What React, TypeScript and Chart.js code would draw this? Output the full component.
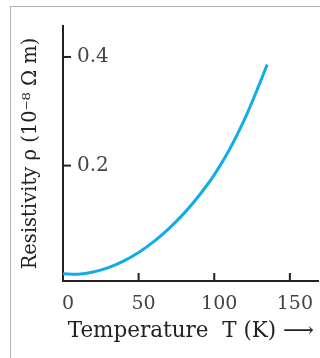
import React, { useEffect, useRef } from "react";
import { Chart, registerables } from "chart.js";

Chart.register(...registerables);

const temperatures = [0, 10, 20, 30, 40, 50, 60, 70, 80, 90, 100, 110, 120, 130, 135];
const resistivity = [0.001, 0.0, 0.004, 0.012, 0.024, 0.04, 0.06, 0.084, 0.112, 0.145, 0.183, 0.229, 0.285, 0.351, 0.386];
const xTicks = [0, 50, 100, 150];
const yTicks = [0.2, 0.4];
const xTitle = "Temperature  T (K) \u27F6";
const yTitle = "Resistivity \u03C1 (10\u207B\u2078 \u03A9 m)";

const SERIF = "'DejaVu Serif', 'Liberation Serif', serif";

const tickMarks = {
  id: "tickMarks",
  afterDraw(chart: any) {
    const { ctx, scales } = chart;
    const x = scales.x;
    const y = scales.y;
    ctx.save();
    ctx.strokeStyle = "#222";
    ctx.lineWidth = 2;
    const left = chart.chartArea.left;
    const bottom = chart.chartArea.bottom;
    xTicks.forEach((v) => {
      if (v === 0) return;
      const px = x.getPixelForValue(v);
      ctx.beginPath();
      ctx.moveTo(px, bottom);
      ctx.lineTo(px, bottom - 8);
      ctx.stroke();
    });
    yTicks.forEach((v) => {
      const py = y.getPixelForValue(v);
      ctx.beginPath();
      ctx.moveTo(left, py);
      ctx.lineTo(left + 8, py);
      ctx.stroke();
    });
    ctx.restore();
  },
};

export default function App() {
  const ref = useRef<HTMLCanvasElement>(null);
  useEffect(() => {
    if (!ref.current) return;
    const chart = new Chart(ref.current, {
      type: "line",
      data: {
        datasets: [
          {
            data: temperatures.map((t, i) => ({ x: t, y: resistivity[i] })),
            borderColor: "#12ade6",
            borderWidth: 3,
            pointRadius: 0,
            tension: 0.4,
            fill: false,
          },
        ],
      },
      options: {
        animation: false,
        responsive: false,
        devicePixelRatio: 1,
        layout: { padding: { top: 18, right: 0, left: 0, bottom: 0 } },
        plugins: { legend: { display: false }, tooltip: { enabled: false } },
        scales: {
          x: {
            type: "linear",
            min: 0,
            max: 169,
            afterFit: (s: any) => {
              s.height = 77;
            },
            afterBuildTicks: (s: any) => {
              s.ticks = xTicks.map((v) => ({ value: v }));
            },
            grid: { display: true, drawOnChartArea: false, drawTicks: false, color: "rgba(0,0,0,0)" },
            border: { display: true, color: "#222", width: 2 },
            ticks: {
              font: { family: SERIF, size: 19 },
              color: "#444",
              padding: 12,
              labelOffset: 5,
              maxRotation: 0,
              autoSkip: false,
            },
            title: {
              display: true,
              text: xTitle,
              font: { family: SERIF, size: 21.5 },
              color: "#222",
              padding: { top: 0, bottom: 14 },
            },
          },
          y: {
            type: "linear",
            min: -0.0125,
            max: 0.457,
            afterFit: (s: any) => {
              s.width = 63;
            },
            afterBuildTicks: (s: any) => {
              s.ticks = yTicks.map((v) => ({ value: v }));
            },
            grid: { display: true, drawOnChartArea: false, drawTicks: false, color: "rgba(0,0,0,0)" },
            border: { display: true, color: "#222", width: 2 },
            ticks: {
              mirror: true,
              padding: 14,
              font: { family: SERIF, size: 20 },
              color: "#444",
              callback: (v: any) => String(v),
            },
            title: {
              display: true,
              text: yTitle,
              font: { family: SERIF, size: 19.5 },
              color: "#222",
              padding: { top: 19, bottom: 0 },
            },
          },
        },
      },
      plugins: [tickMarks],
    } as any);
    return () => chart.destroy();
  }, []);

  return (
    <div style={{ position: "absolute", left: 0, top: 0, width: 320, height: 358, background: "#fff", overflow: "hidden" }}>
      <canvas ref={ref} width={320} height={358} style={{ position: "absolute", left: 0, top: 0 }} />
      <div
        style={{
          position: "absolute",
          left: 10,
          top: 6,
          right: 0,
          bottom: 0,
          borderTop: "1px solid #b3b3b3",
          borderLeft: "1px solid #b3b3b3",
          pointerEvents: "none",
        }}
      />
    </div>
  );
}
